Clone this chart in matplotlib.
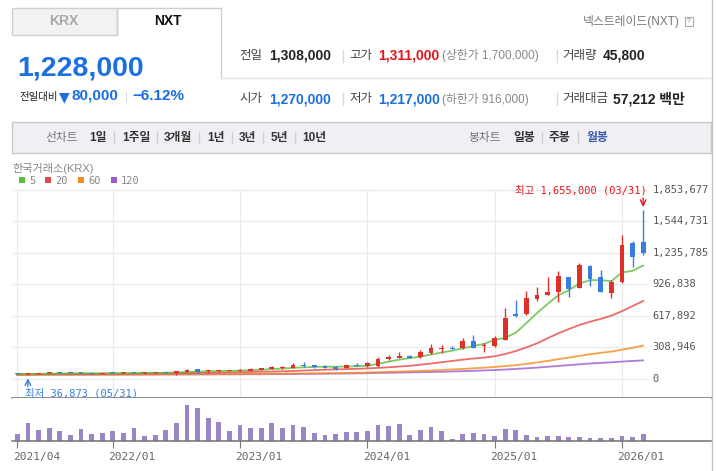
import matplotlib
matplotlib.use('Agg')
import matplotlib.pyplot as plt
import matplotlib.transforms as mtransforms
from matplotlib.patches import Rectangle
import numpy as np

plt.rcParams['font.family'] = ['Liberation Sans', 'Noto Sans CJK KR', 'DejaVu Sans']
MONO = ['DejaVu Sans Mono', 'Noto Sans CJK KR']

# monthly candles 2021/04 .. 2026/03 (thousand won)
opens = [44, 41, 48, 51, 56, 55, 55, 53, 44, 54, 51, 64, 50, 52, 64, 50, 68, 93, 72, 69,
         78, 76, 74, 83, 93, 105, 103, 132, 132, 123, 116, 103, 132, 120, 126, 188, 204, 221, 214, 247,
         286, 296, 302, 368, 319, 322, 378, 633, 633, 783, 819, 852, 992, 891, 1103, 992, 842, 943, 1326, 1339]
highs = [45, 52, 53, 60, 63, 57, 62, 55, 52, 63, 59, 65, 64, 65, 65, 73, 93, 94, 80, 84,
         88, 92, 102, 105, 126, 126, 152, 165, 134, 132, 118, 134, 152, 160, 215, 230, 258, 230, 275, 338,
         329, 315, 400, 427, 345, 417, 695, 770, 858, 897, 999, 1058, 1000, 1130, 1113, 1064, 966, 1407, 1349, 1655]
lows = [40, 36.873, 46, 48, 52, 50, 50, 45, 42, 50, 49, 50, 49, 50, 50, 38, 66, 58, 51, 67,
        76, 72, 72, 82, 90, 93, 100, 116, 107, 100, 83, 100, 122, 116, 116, 180, 200, 198, 205, 237,
        253, 285, 289, 300, 263, 312, 375, 600, 626, 763, 815, 754, 803, 885, 910, 850, 793, 940, 1097, 1211]
closes = [41, 50, 51, 53, 54, 51, 53, 47, 50, 52, 54, 51, 63, 64, 52, 72, 82, 59, 75, 83,
          83, 84, 96, 103, 116, 112, 136, 124, 113, 103, 90, 132, 126, 148, 191, 214, 224, 201, 263, 302,
          296, 289, 368, 302, 332, 394, 590, 616, 790, 819, 845, 1005, 878, 1113, 979, 852, 946, 1309, 1195, 1228]

# moving average lines (thousand won)
ma5 = [44, 44, 45, 47, 49, 50, 51, 51, 50, 51, 51, 53, 54, 55, 56, 59, 63, 68, 70, 73,
       75, 78, 82, 86, 92, 98, 104, 110, 113, 116, 116, 117, 120, 125, 145, 165, 185, 200, 214, 235,
       255, 273, 295, 319, 340, 378, 400, 449, 544, 642, 732, 815, 867, 932, 964, 965, 954, 1040, 1056, 1108]
ma20 = [40, 41, 42, 43, 44, 45, 46, 46, 47, 48, 48, 49, 50, 50, 51, 52, 53, 55, 56, 58,
        60, 62, 64, 66, 68, 71, 74, 78, 82, 86, 89, 92, 95, 99, 104, 110, 117, 124, 135, 147,
        160, 172, 185, 196, 205, 218, 240, 270, 305, 345, 395, 443, 485, 525, 557, 585, 616, 660, 710, 760]
ma60 = [36, 36, 36, 37, 37, 37, 38, 38, 38, 38, 39, 39, 40, 40, 40, 41, 41, 42, 42, 43,
        43, 44, 45, 46, 47, 48, 49, 50, 51, 52, 53, 55, 57, 59, 62, 65, 68, 71, 75, 79,
        84, 89, 94, 100, 106, 113, 122, 131, 143, 157, 172, 190, 205, 222, 238, 252, 264, 282, 301, 322]
ma120 = [38, 38, 38, 38, 38, 38, 38, 38, 39, 39, 39, 39, 39, 39, 40, 40, 40, 40, 40, 41,
         41, 41, 42, 42, 43, 43, 44, 45, 46, 47, 48, 49, 51, 52, 54, 56, 58, 60, 62, 64,
         66, 69, 72, 75, 79, 83, 88, 94, 100, 107, 115, 123, 131, 139, 147, 153, 159, 166, 172, 178]

volume = [21, 54, 33, 39, 30, 18, 36, 21, 24, 30, 24, 39, 15, 18, 33, 54, 108, 99, 69, 57,
          30, 48, 39, 39, 54, 39, 48, 42, 24, 18, 21, 27, 27, 30, 48, 45, 51, 18, 33, 42,
          30, 6, 21, 24, 21, 15, 36, 33, 18, 12, 15, 15, 12, 12, 9, 9, 9, 15, 12, 21]

year_ticks = [0, 9, 21, 33, 45, 57]
year_labels = ['2021/04', '2022/01', '2023/01', '2024/01', '2025/01', '2026/01']
price_ticks = [0, 308946, 617892, 926838, 1235785, 1544731, 1853677]

o = np.array(opens) * 1000
h = np.array(highs) * 1000
l = np.array(lows) * 1000
c = np.array(closes) * 1000
idx = np.arange(len(o))

RED = '#e0302a'
BLUE = '#1b6fe0'
CBLUE = '#3a7de0'
GRAY = '#666666'
W, H = 717, 471

fig = plt.figure(figsize=(7.17, 4.71), dpi=100)


def rect(x0, y0, x1, y1):
    return [x0 / W, 1 - y1 / H, (x1 - x0) / W, (y1 - y0) / H]


bg = fig.add_axes([0, 0, 1, 1])
bg.set_xlim(0, W)
bg.set_ylim(H, 0)
bg.axis('off')

# tabs
bg.add_patch(Rectangle((12, 8), 105, 27, fc='#f2f2f2', ec='#cfcfcf', lw=1))
bg.plot([117, 117, 221, 221], [35, 8, 8, 78], color='#cfcfcf', lw=1)
bg.plot([221, 711], [78, 78], color='#e3e3e3', lw=1)
bg.text(64, 21, 'KRX', ha='center', va='center', fontsize=10, fontweight='bold', color='#a8a8a8')
bg.text(168, 21, 'NXT', ha='center', va='center', fontsize=10, fontweight='bold', color='#111111')
bg.text(680, 22, '넥스트레이드(NXT)', ha='right', va='center', fontsize=8.5, color='#777777')
bg.add_patch(Rectangle((685, 17), 8, 9, fc='white', ec='#aaaaaa', lw=0.8))
bg.text(689, 21.5, '?', ha='center', va='center', fontsize=5, color='#777777')
bg.plot([711.5, 711.5], [0, H], color='#c4c4c4', lw=1)

# price block
bg.text(17, 69, '1,228,000', ha='left', va='center', fontsize=20.5, fontweight='bold', color=BLUE)
bg.text(19, 97, '전일대비', ha='left', va='center', fontsize=7.5, color='#222222')
bg.text(64, 97, '▼', ha='center', va='center', fontsize=10, color=BLUE, family='DejaVu Sans')
bg.text(72, 96, '80,000', ha='left', va='center', fontsize=11, fontweight='bold', color=BLUE)
bg.text(126, 97, '|', ha='center', va='center', fontsize=8, color='#d0d0d0')
bg.text(132, 96, '−6.12%', ha='left', va='center', fontsize=11, fontweight='bold', color=BLUE)

row1 = [(239, '전일', 9, 'normal', '#444444'), (269, '1,308,000', 10, 'bold', '#222222'),
        (349, '고가', 9, 'normal', '#444444'), (378, '1,311,000', 10, 'bold', '#e8121b'),
        (442, '(상한가 1,700,000)', 8.5, 'normal', '#888888'),
        (562, '거래량', 9, 'normal', '#444444'), (603, '45,800', 10, 'bold', '#222222')]
row2 = [(239, '시가', 9, 'normal', '#444444'), (269, '1,270,000', 10, 'bold', BLUE),
        (349, '저가', 9, 'normal', '#444444'), (378, '1,217,000', 10, 'bold', BLUE),
        (442, '(하한가 916,000)', 8.5, 'normal', '#888888'),
        (562, '거래대금', 9, 'normal', '#444444'), (613, '57,212 백만', 10, 'bold', '#222222')]
for yy, row in [(56, row1), (99, row2)]:
    for x, t, fs, fw, col in row:
        bg.text(x, yy, t, ha='left', va='center', fontsize=fs, fontweight=fw, color=col)
    for sx in (343, 557):
        bg.plot([sx, sx], [yy - 6, yy + 6], color='#d8d8d8', lw=1)

# chart type bar
bg.add_patch(Rectangle((12, 122), 699, 31, fc='#eef0f3', ec='#c8c8c8', lw=1))
bar_items = [(45, '선차트', 'normal', '#777777'), (89, '1일', 'bold', '#333333'),
             (122, '1주일', 'bold', '#333333'), (164, '3개월', 'bold', '#333333'),
             (207, '1년', 'bold', '#333333'), (239, '3년', 'bold', '#333333'),
             (271, '5년', 'bold', '#333333'), (302, '10년', 'bold', '#333333'),
             (468, '봉차트', 'normal', '#777777'), (513, '일봉', 'bold', '#333333'),
             (549, '주봉', 'bold', '#333333'), (586, '월봉', 'bold', '#3b5bb0')]
for x, t, fw, col in bar_items:
    bg.text(x, 137.5, t, ha='left', va='center', fontsize=8.5, fontweight=fw, color=col)
for sx in (114, 157, 199, 232, 263, 295, 542, 578):
    bg.plot([sx, sx], [132, 143], color='#d0d0d0', lw=1)

# chart caption and legend
bg.text(12, 168, '한국거래소(KRX)', ha='left', va='center', fontsize=8, color='#888888')
ma_legend = [(19, '5', '#5cbd3c'), (45, '20', '#e84646'), (78, '60', '#f58a1e'), (111, '120', '#9a5bd0')]
for x, t, col in ma_legend:
    bg.add_patch(Rectangle((x, 177), 6, 6, fc=col, ec='none'))
    bg.text(x + 10, 180.5, t, ha='left', va='center', fontsize=7.5, color='#888888', family=MONO)

# main price chart
px_per_val = 9808.0
ax = fig.add_axes(rect(12, 180, 711, 398))
ax.set_xlim(-0.5, 65.4)
ax.set_ylim(-(398 - 378.5) * px_per_val, (378.5 - 180) * px_per_val)
ax.axis('off')
ax.hlines(price_ticks, -0.5, 59.4, color='#ebebeb', lw=1, zorder=0)
ax.vlines(year_ticks, ax.get_ylim()[0], price_ticks[-1], color='#ebebeb', lw=1, zorder=0)
ax.plot([-0.5, 65.4], [ax.get_ylim()[0]] * 2, color='#7a7a7a', lw=1.2, clip_on=False)
for v in price_ticks:
    ax.text(59.9, v, f'{v:,}', ha='left', va='center', fontsize=7.5, color='#555555', family=MONO)

for ma, col in [(ma120, '#9a5bd0'), (ma60, '#f58a1e'), (ma20, '#e84646'), (ma5, '#5cbd3c')]:
    ax.plot(idx, np.array(ma) * 1000, color=col, lw=1.3, alpha=0.8, zorder=2)

up = c >= o
colors = np.where(up, RED, CBLUE)
ax.vlines(idx, l, h, colors=colors, lw=1, zorder=3)
body = np.maximum(np.abs(c - o), px_per_val * 1.0)
ax.bar(idx, body, bottom=np.minimum(o, c), width=0.45, color=colors, zorder=4)

imax = int(np.argmax(h))
ax.annotate('', xy=(imax, h[imax]), xytext=(0, 8.5), textcoords='offset points',
            arrowprops=dict(arrowstyle='->', color='#e8121b', lw=1, shrinkA=0, shrinkB=2))
ax.annotate('최고 1,655,000 (03/31)', xy=(imax, h[imax]), xytext=(2.8, 13.7), textcoords='offset points',
            ha='right', va='center', fontsize=7.5, color='#e8121b', family=MONO)
imin = int(np.argmin(l))
ax.annotate('', xy=(imin, l[imin]), xytext=(0, -8.5), textcoords='offset points',
            arrowprops=dict(arrowstyle='->', color=CBLUE, lw=1, shrinkA=0, shrinkB=2.5))
ax.annotate('최저 36,873 (05/31)', xy=(imin, l[imin]), xytext=(-2.2, -13.2), textcoords='offset points',
            ha='left', va='center', fontsize=7.5, color=CBLUE, family=MONO, annotation_clip=False)

# volume panel
vax = fig.add_axes(rect(12, 398, 711, 441))
vax.set_xlim(-0.5, 65.4)
vax.set_ylim(0, max(volume) * 43 / 36)
vax.bar(idx, volume, width=0.45, color='#9b85c6')
for s in ('top', 'left', 'right'):
    vax.spines[s].set_visible(False)
vax.spines['bottom'].set_color('#7a7a7a')
vax.spines['bottom'].set_linewidth(1.2)
vax.set_yticks([])
vax.set_xticks(year_ticks)
vax.set_xticklabels(year_labels, family=MONO, fontsize=8, color=GRAY)
vax.tick_params(axis='x', length=5, color='#7a7a7a', pad=3)
shift = mtransforms.ScaledTranslation(-4.5 / 100, 0, fig.dpi_scale_trans)
for lab in vax.get_xticklabels():
    lab.set_horizontalalignment('left')
    lab.set_transform(lab.get_transform() + shift)
bg.add_patch(Rectangle((665, 407), 3, 7, fc='#9b85c6', ec='none'))
bg.text(670, 411, '거래량', ha='left', va='center', fontsize=7.5, color='#333333')

fig.savefig('out.png', dpi=100)
